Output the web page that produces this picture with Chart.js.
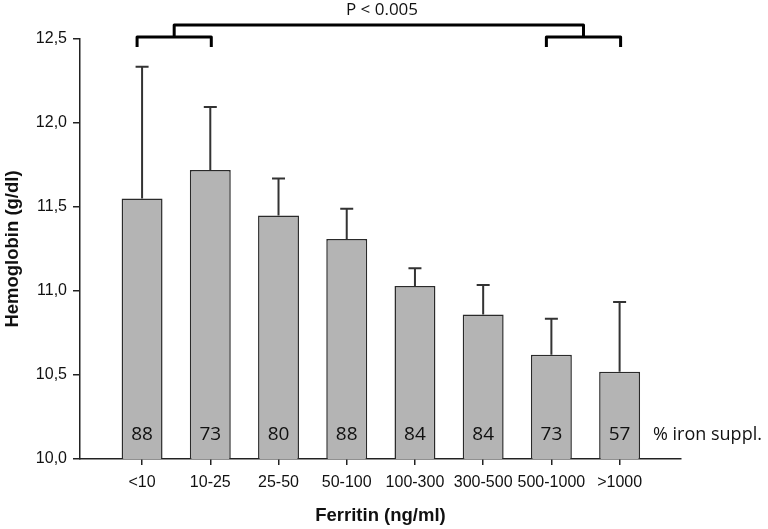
<!DOCTYPE html>
<html>
<head>
<meta charset="utf-8">
<script src="https://cdn.jsdelivr.net/npm/chart.js@4/dist/chart.umd.min.js"></script>
<style>
  html, body { margin: 0; padding: 0; background: #fff; }
  #grafico { display: block; }
</style>
</head>
<body>
<canvas id="grafico" width="768" height="529"></canvas>
<script>
  // datos
  let ferritina = ["<10", "10-25", "25-50", "50-100", "100-300", "300-500", "500-1000", ">1000"]
  let hemoglobina = [11.55, 11.72, 11.45, 11.31, 11.03, 10.86, 10.62, 10.52]
  let errorArriba = [12.335, 12.095, 11.67, 11.49, 11.135, 11.035, 10.835, 10.935]
  let hierroPct = [88, 73, 80, 88, 84, 84, 73, 57]
  let yTicks = [10, 10.5, 11, 11.5, 12, 12.5]

  const negro = "#222"

  // barras de error (solo hacia arriba) y porcentajes dentro de las barras
  const extras = {
    id: "extras",
    afterDatasetsDraw(chart) {
      const ctx = chart.ctx
      const x = chart.scales.x
      const y = chart.scales.y
      ctx.save()
      ctx.strokeStyle = "#333"
      ctx.lineWidth = 2
      for (var i = 0; i < hemoglobina.length; i++) {
        let px = x.getPixelForValue(i)
        let yBar = y.getPixelForValue(hemoglobina[i])
        let yErr = y.getPixelForValue(errorArriba[i])
        ctx.beginPath()
        ctx.moveTo(px, yBar)
        ctx.lineTo(px, yErr)
        ctx.moveTo(px - 6.5, yErr)
        ctx.lineTo(px + 6.5, yErr)
        ctx.stroke()
      }
      // numeros % dentro de las barras
      ctx.fillStyle = "#111"
      ctx.font = "19px 'Open Sans'"
      ctx.textAlign = "center"
      ctx.textBaseline = "middle"
      for (var i = 0; i < hierroPct.length; i++) {
        ctx.fillText(String(hierroPct[i]), x.getPixelForValue(i), y.bottom - 24)
      }
      ctx.textAlign = "left"
      ctx.font = "18px 'Open Sans'"
      ctx.fillText("% iron suppl.", x.right - 28, y.bottom - 24)

      // corchetes de significancia
      ctx.strokeStyle = "#000"
      ctx.lineWidth = 3
      ctx.lineJoin = "round"
      ctx.lineCap = "butt"
      let izq1 = x.getPixelForValue(0) - 5, der1 = x.getPixelForValue(1) + 1
      let izq2 = x.getPixelForValue(6) - 5, der2 = x.getPixelForValue(7) + 1
      let m1 = (izq1 + der1) / 2, m2 = (izq2 + der2) / 2
      let yAlto = y.top - 14, yMedio = y.top - 2, yBajo = y.top + 8
      ctx.beginPath()
      ctx.moveTo(izq1, yBajo); ctx.lineTo(izq1, yMedio); ctx.lineTo(der1, yMedio); ctx.lineTo(der1, yBajo)
      ctx.moveTo(izq2, yBajo); ctx.lineTo(izq2, yMedio); ctx.lineTo(der2, yMedio); ctx.lineTo(der2, yBajo)
      ctx.moveTo(m1, yMedio); ctx.lineTo(m1, yAlto); ctx.lineTo(m2, yAlto); ctx.lineTo(m2, yMedio)
      ctx.stroke()

      ctx.fillStyle = "#111"
      ctx.font = "17px 'Open Sans'"
      ctx.textAlign = "center"
      ctx.fillText("P < 0.005", 382, 10)
      ctx.restore()
    }
  }

  var ctx = document.getElementById("grafico").getContext("2d")
  var grafico = new Chart(ctx, {
    type: "bar",
    data: {
      datasets: [
        {
          data: hemoglobina.map((v, i) => ({ x: i, y: v })),
          backgroundColor: "#b4b4b4",
          borderColor: "#2a2a2a",
          borderWidth: 1.5,
          borderSkipped: "bottom",
          barPercentage: 0.6,
          categoryPercentage: 1
        }
      ]
    },
    options: {
      responsive: false,
      animation: false,
      layout: { padding: { top: 39, right: 87, left: 0, bottom: 0 } },
      plugins: { legend: { display: false }, tooltip: { enabled: false } },
      scales: {
        x: {
          type: "linear",
          min: -0.91,
          max: 7.9,
          offset: false,
          afterBuildTicks: s => { s.ticks = ferritina.map((c, i) => ({ value: i })) },
          afterFit: s => { s.height = 70 },
          grid: { offset: false, drawOnChartArea: false, drawTicks: true, tickLength: 6, color: negro, lineWidth: 1.5 },
          border: { display: true, color: negro, width: 1.5 },
          ticks: {
            autoSkip: false,
            maxRotation: 0,
            padding: 8,
            color: "#111",
            font: { family: "'Liberation Sans'", size: 16 },
            callback: v => ferritina[v]
          },
          title: {
            display: true,
            text: "Ferritin (ng/ml)",
            color: "#111",
            padding: { top: 0, bottom: 2 },
            font: { family: "'Liberation Sans'", size: 18.5, weight: "bold" }
          }
        },
        y: {
          min: 10,
          max: 12.5,
          afterBuildTicks: s => { s.ticks = yTicks.map(v => ({ value: v })) },
          afterFit: s => { s.width = 80 },
          grid: { drawOnChartArea: false, drawTicks: true, tickLength: 7, color: negro, lineWidth: 1.5 },
          border: { display: true, color: negro, width: 1.5 },
          ticks: {
            padding: 6,
            color: "#111",
            font: { family: "'Liberation Sans'", size: 16 },
            callback: v => v.toFixed(1).replace(".", ",")
          },
          title: {
            display: true,
            text: "Hemoglobin (g/dl)",
            color: "#111",
            padding: { top: 2, bottom: 0 },
            font: { family: "'Liberation Sans'", size: 18.5, weight: "bold" }
          }
        }
      }
    },
    plugins: [extras]
  })
</script>
</body>
</html>
